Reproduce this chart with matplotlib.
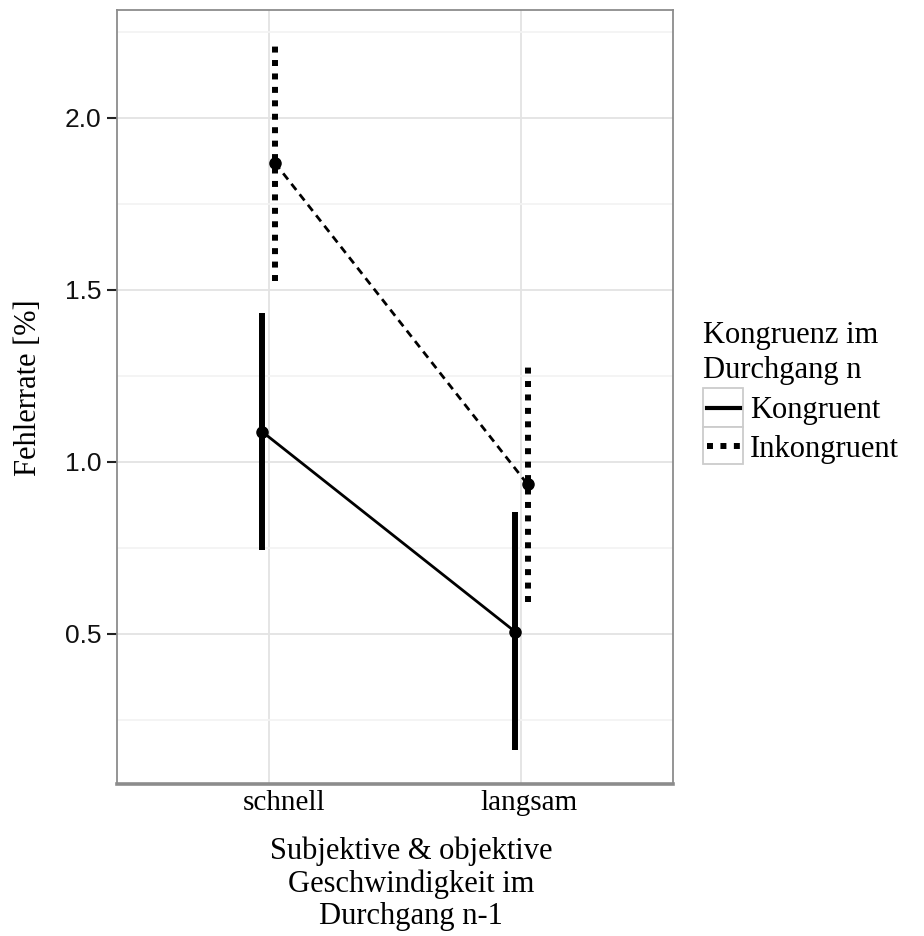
import numpy as np
import matplotlib
matplotlib.use("Agg")
import matplotlib.pyplot as plt
from matplotlib.patches import Rectangle
from matplotlib.lines import Line2D
from matplotlib.transforms import ScaledTranslation

# Daten
speed_levels = ["schnell", "langsam"]
groups = ["Kongruent", "Inkongruent"]
kong_mean = [1.087, 0.506]
kong_low = [0.744, 0.163]
kong_high = [1.433, 0.854]
inkong_mean = [1.869, 0.934]
inkong_low = [1.526, 0.592]
inkong_high = [2.215, 1.276]
y_ticks = [0.5, 1.0, 1.5, 2.0]

W, H = 924, 936
fig = plt.figure(figsize=(W / 100, H / 100), dpi=100)

def fx(x):
    return x / W

def fy(y):
    return 1 - y / H

ax = fig.add_axes([fx(117), fy(784), fx(673) - fx(117), fy(9.5) - fy(784)])

serif = "Liberation Serif"
sans = "Liberation Sans"

x = np.arange(1, len(speed_levels) + 1)
dodge = 0.025

ax.vlines(x - dodge, kong_low, kong_high, color="black", lw=4.3, zorder=3)
ax.vlines(x + dodge, inkong_low, inkong_high, color="black", lw=4.3,
          linestyles=[(0, (1.0, 1.25))], zorder=3)
ax.plot(x - dodge, kong_mean, color="black", lw=2.0, zorder=4)
ax.plot(x + dodge, inkong_mean, color="black", lw=2.0, dashes=(2.8, 2.0), zorder=4)
ax.plot(x - dodge, kong_mean, "o", color="black", ms=8, zorder=5)
ax.plot(x + dodge, inkong_mean, "o", color="black", ms=8, zorder=5)

ax.set_xlim(0.4, 2.6)
ax.set_ylim(0.063, 2.315)
ax.set_xticks(x)
ax.set_xticklabels(speed_levels, fontfamily=serif, fontsize=21)
ax.set_yticks(y_ticks)
ax.set_yticklabels([f"{v:.1f}" for v in y_ticks], fontfamily=sans, fontsize=19, color="#111111")
ax.set_yticks([0.25, 0.75, 1.25, 1.75, 2.25], minor=True)

ax.grid(True, which="major", color="#e3e3e3", lw=1.3)
ax.grid(True, which="minor", axis="y", color="#f3f3f3", lw=1.3)
ax.set_axisbelow(True)
ax.tick_params(axis="y", which="major", length=7, width=1.5, color="#222222", pad=4)
ax.tick_params(axis="y", which="minor", length=0)
ax.tick_params(axis="x", length=0, pad=4)

for side in ["left", "top", "right"]:
    ax.spines[side].set_color("#8c8c8c")
    ax.spines[side].set_linewidth(1.3)
ax.spines["bottom"].set_color("#8c8c8c")
ax.spines["bottom"].set_linewidth(2.6)

# Tick-Beschriftungen leicht verschoben wie im Original
for lbl, dx in zip(ax.get_xticklabels(), [15, 8]):
    lbl.set_transform(lbl.get_transform() + ScaledTranslation(dx / 100, 0, fig.dpi_scale_trans))

# Achsentitel
fig.text(fx(29), fy(388), "Fehlerrate [%]", rotation=90, ha="center", va="center",
         fontfamily=serif, fontsize=22)
for txt, yb in zip(["Subjektive & objektive", "Geschwindigkeit im", "Durchgang n-1"],
                   [859, 892, 924]):
    fig.text(fx(411), fy(yb), txt, ha="center", va="baseline", fontfamily=serif, fontsize=22)

# Legende
fig.text(fx(703), fy(343), "Kongruenz im", ha="left", va="baseline", fontfamily=serif, fontsize=22)
fig.text(fx(703), fy(378), "Durchgang n", ha="left", va="baseline", fontfamily=serif, fontsize=22)
key_styles = ["-", (0, (1.0, 1.25))]
key_tops = [388, 427]
key_bottoms = [427, 464]
baselines = [418, 457]
for grp, ls, top, bot, yb in zip(groups, key_styles, key_tops, key_bottoms, baselines):
    fig.add_artist(Rectangle((fx(703), fy(bot)), fx(743) - fx(703), fy(top) - fy(bot),
                             transform=fig.transFigure, facecolor="white",
                             edgecolor="#cccccc", lw=1.3))
    ym = fy((top + bot) / 2)
    lw = 3.0 if ls == "-" else 4.3
    fig.add_artist(Line2D([fx(707), fx(740)], [ym, ym], transform=fig.transFigure,
                          color="black", lw=lw, linestyle=ls))
    fig.text(fx(750), fy(yb), grp, ha="left", va="baseline", fontfamily=serif, fontsize=22)

fig.savefig("out.png", dpi=100, facecolor="white")
